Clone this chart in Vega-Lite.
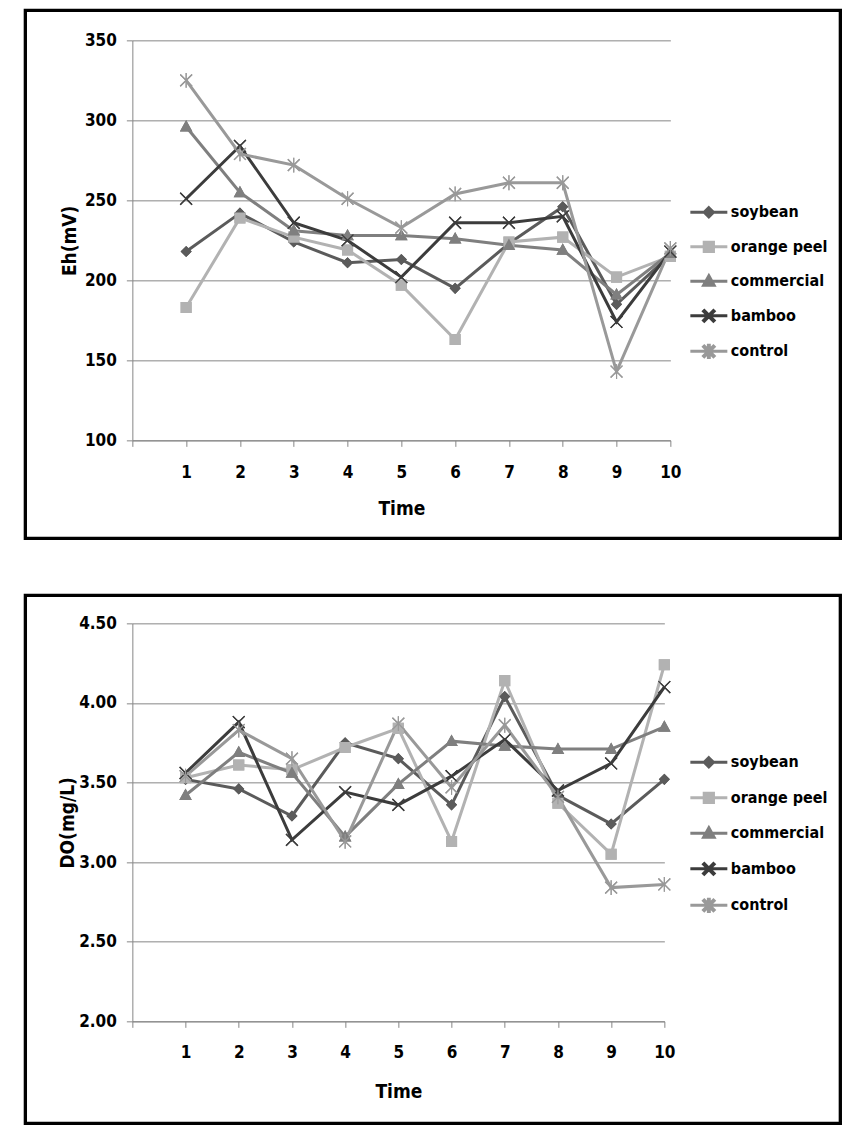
{
  "$schema": "https://vega.github.io/schema/vega-lite/v6.json",
  "background": "white",
  "padding": {"left": 23.35, "top": 8.35, "right": 5, "bottom": 5},
  "bounds": "flush",
  "spacing": 183,
  "resolve": {"scale": {"color": "independent", "shape": "independent", "x": "independent", "y": "independent"}, "legend": {"color": "independent", "shape": "independent"}},
  "datasets": {
    "eh": [
      {"time": 1, "series": "soybean", "value": 218}, {"time": 2, "series": "soybean", "value": 242}, {"time": 3, "series": "soybean", "value": 224}, {"time": 4, "series": "soybean", "value": 211}, {"time": 5, "series": "soybean", "value": 213}, {"time": 6, "series": "soybean", "value": 195}, {"time": 7, "series": "soybean", "value": 223}, {"time": 8, "series": "soybean", "value": 246}, {"time": 9, "series": "soybean", "value": 185}, {"time": 10, "series": "soybean", "value": 216},
      {"time": 1, "series": "orange peel", "value": 183}, {"time": 2, "series": "orange peel", "value": 239}, {"time": 3, "series": "orange peel", "value": 227}, {"time": 4, "series": "orange peel", "value": 219}, {"time": 5, "series": "orange peel", "value": 197}, {"time": 6, "series": "orange peel", "value": 163}, {"time": 7, "series": "orange peel", "value": 224}, {"time": 8, "series": "orange peel", "value": 227}, {"time": 9, "series": "orange peel", "value": 202}, {"time": 10, "series": "orange peel", "value": 215},
      {"time": 1, "series": "commercial", "value": 296}, {"time": 2, "series": "commercial", "value": 255}, {"time": 3, "series": "commercial", "value": 231}, {"time": 4, "series": "commercial", "value": 228}, {"time": 5, "series": "commercial", "value": 228}, {"time": 6, "series": "commercial", "value": 226}, {"time": 7, "series": "commercial", "value": 222}, {"time": 8, "series": "commercial", "value": 219}, {"time": 9, "series": "commercial", "value": 191}, {"time": 10, "series": "commercial", "value": 217},
      {"time": 1, "series": "bamboo", "value": 251}, {"time": 2, "series": "bamboo", "value": 284}, {"time": 3, "series": "bamboo", "value": 236}, {"time": 4, "series": "bamboo", "value": 225}, {"time": 5, "series": "bamboo", "value": 202}, {"time": 6, "series": "bamboo", "value": 236}, {"time": 7, "series": "bamboo", "value": 236}, {"time": 8, "series": "bamboo", "value": 240}, {"time": 9, "series": "bamboo", "value": 174}, {"time": 10, "series": "bamboo", "value": 218},
      {"time": 1, "series": "control", "value": 325}, {"time": 2, "series": "control", "value": 279}, {"time": 3, "series": "control", "value": 272}, {"time": 4, "series": "control", "value": 251}, {"time": 5, "series": "control", "value": 233}, {"time": 6, "series": "control", "value": 254}, {"time": 7, "series": "control", "value": 261}, {"time": 8, "series": "control", "value": 261}, {"time": 9, "series": "control", "value": 143}, {"time": 10, "series": "control", "value": 220}
    ],
    "do": [
      {"time": 1, "series": "soybean", "value": 3.52}, {"time": 2, "series": "soybean", "value": 3.46}, {"time": 3, "series": "soybean", "value": 3.29}, {"time": 4, "series": "soybean", "value": 3.75}, {"time": 5, "series": "soybean", "value": 3.65}, {"time": 6, "series": "soybean", "value": 3.36}, {"time": 7, "series": "soybean", "value": 4.04}, {"time": 8, "series": "soybean", "value": 3.42}, {"time": 9, "series": "soybean", "value": 3.24}, {"time": 10, "series": "soybean", "value": 3.52},
      {"time": 1, "series": "orange peel", "value": 3.53}, {"time": 2, "series": "orange peel", "value": 3.61}, {"time": 3, "series": "orange peel", "value": 3.58}, {"time": 4, "series": "orange peel", "value": 3.72}, {"time": 5, "series": "orange peel", "value": 3.84}, {"time": 6, "series": "orange peel", "value": 3.13}, {"time": 7, "series": "orange peel", "value": 4.14}, {"time": 8, "series": "orange peel", "value": 3.37}, {"time": 9, "series": "orange peel", "value": 3.05}, {"time": 10, "series": "orange peel", "value": 4.24},
      {"time": 1, "series": "commercial", "value": 3.42}, {"time": 2, "series": "commercial", "value": 3.69}, {"time": 3, "series": "commercial", "value": 3.56}, {"time": 4, "series": "commercial", "value": 3.16}, {"time": 5, "series": "commercial", "value": 3.49}, {"time": 6, "series": "commercial", "value": 3.76}, {"time": 7, "series": "commercial", "value": 3.73}, {"time": 8, "series": "commercial", "value": 3.71}, {"time": 9, "series": "commercial", "value": 3.71}, {"time": 10, "series": "commercial", "value": 3.85},
      {"time": 1, "series": "bamboo", "value": 3.56}, {"time": 2, "series": "bamboo", "value": 3.88}, {"time": 3, "series": "bamboo", "value": 3.14}, {"time": 4, "series": "bamboo", "value": 3.44}, {"time": 5, "series": "bamboo", "value": 3.36}, {"time": 6, "series": "bamboo", "value": 3.54}, {"time": 7, "series": "bamboo", "value": 3.77}, {"time": 8, "series": "bamboo", "value": 3.45}, {"time": 9, "series": "bamboo", "value": 3.62}, {"time": 10, "series": "bamboo", "value": 4.10},
      {"time": 1, "series": "control", "value": 3.54}, {"time": 2, "series": "control", "value": 3.83}, {"time": 3, "series": "control", "value": 3.65}, {"time": 4, "series": "control", "value": 3.13}, {"time": 5, "series": "control", "value": 3.87}, {"time": 6, "series": "control", "value": 3.47}, {"time": 7, "series": "control", "value": 3.86}, {"time": 8, "series": "control", "value": 3.41}, {"time": 9, "series": "control", "value": 2.84}, {"time": 10, "series": "control", "value": 2.86}
    ]
  },
  "config": {
    "font": "DejaVu Sans Condensed, Liberation Sans Narrow, DejaVu Sans, sans-serif",
    "view": {"stroke": null},
    "axis": {
      "labelFontSize": 17, "labelFontWeight": "bold", "labelColor": "black",
      "titleFontSize": 19, "titleFontWeight": "bold", "titleColor": "black",
      "domainColor": "#868686", "tickColor": "#868686", "gridColor": "#868686", "gridOpacity": 1,
      "domainWidth": 1, "tickWidth": 1, "gridWidth": 1, "tickSize": 6
    },
    "legend": {"labelFontSize": 16, "labelFontWeight": "bold", "labelColor": "black"}
  },
  "vconcat": [
    {
      "width": 538,
      "height": 400,
      "layer": [
        {
          "data": {"name": "eh"},
          "mark": {"type": "point", "filled": true, "opacity": 1, "size": 1369},
          "encoding": {
            "x": {"field": "time", "type": "quantitative", "scale": {"domain": [0, 10], "nice": false, "zero": false},
                  "axis": {"title": "Time", "values": [0, 1, 2, 3, 4, 5, 6, 7, 8, 9, 10], "labelExpr": "datum.value == 0 ? '' : datum.label", "grid": false, "labelFlush": false, "labelPadding": 18, "titlePadding": 19, "labelAngle": 0}},
            "y": {"field": "value", "type": "quantitative", "scale": {"domain": [100, 350], "nice": false, "zero": false},
                  "axis": {"title": "Eh(mV)", "values": [100, 150, 200, 250, 300, 350], "grid": true, "labelPadding": 10, "titlePadding": 5}},
            "color": {"field": "series", "type": "nominal",
                      "scale": {"domain": ["soybean", "orange peel", "commercial", "bamboo", "control"], "range": ["#5b5b5b", "#b2b2b2", "#7f7f7f", "#3c3c3c", "#999999"]},
                      "legend": {"title": null, "orient": "none", "legendX": 559.5, "legendY": 155, "symbolSize": 950, "symbolStrokeWidth": 3, "symbolOffset": 0, "labelOffset": 5, "rowPadding": 6.5, "padding": 0, "labelLimit": 200,
                                 "encoding": {"symbols": {"stroke": {"condition": [{"test": "datum.value === 'soybean'", "value": "#5b5b5b"}, {"test": "datum.value === 'orange peel'", "value": "#b2b2b2"}, {"test": "datum.value === 'commercial'", "value": "#7f7f7f"}, {"test": "datum.value === 'bamboo'", "value": "#3c3c3c"}], "value": "#999999"}, "strokeWidth": {"value": 3}}}}},
            "shape": {"field": "series", "type": "nominal",
                      "scale": {"domain": ["soybean", "orange peel", "commercial", "bamboo", "control"],
                                "range": [
                                  "M-1.2,0H1.2M0,-0.3L0.3,0L0,0.3L-0.3,0Z",
                                  "M-1.2,0H1.2M-0.3,-0.3H0.3V0.3H-0.3Z",
                                  "M-1.2,0H1.2M0,-0.36L0.34,0.26H-0.34Z",
                                  "M-1.2,0H1.2M-0.295,-0.345L0.345,0.295L0.295,0.345L-0.345,-0.295ZM0.345,-0.295L-0.295,0.345L-0.345,0.295L0.295,-0.345Z",
                                  "M-1.2,0H1.2M-0.295,-0.345L0.345,0.295L0.295,0.345L-0.345,-0.295ZM0.345,-0.295L-0.295,0.345L-0.345,0.295L0.295,-0.345ZM-0.03,-0.4H0.03V0.4H-0.03Z"
                                ]},
                      "legend": {"title": null, "orient": "none", "legendX": 559.5, "legendY": 155, "symbolSize": 950, "symbolStrokeWidth": 3, "symbolOffset": 0, "labelOffset": 5, "rowPadding": 6.5, "padding": 0, "labelLimit": 200,
                                 "encoding": {"symbols": {"stroke": {"condition": [{"test": "datum.value === 'soybean'", "value": "#5b5b5b"}, {"test": "datum.value === 'orange peel'", "value": "#b2b2b2"}, {"test": "datum.value === 'commercial'", "value": "#7f7f7f"}, {"test": "datum.value === 'bamboo'", "value": "#3c3c3c"}], "value": "#999999"}, "strokeWidth": {"value": 3}}}}}
          }
        },
        {
          "data": {"name": "eh"},
          "mark": {"type": "line", "strokeWidth": 3},
          "encoding": {
            "x": {"field": "time", "type": "quantitative"},
            "y": {"field": "value", "type": "quantitative"},
            "detail": {"field": "series", "type": "nominal"},
            "color": {"field": "series", "type": "nominal",
                      "scale": {"domain": ["soybean", "orange peel", "commercial", "bamboo", "control"], "range": ["#5b5b5b", "#b2b2b2", "#7f7f7f", "#3c3c3c", "#999999"]},
                      "legend": {"title": null, "orient": "none", "legendX": 559.5, "legendY": 155, "symbolSize": 950, "symbolStrokeWidth": 3, "symbolOffset": 0, "labelOffset": 5, "rowPadding": 6.5, "padding": 0, "labelLimit": 200,
                                 "encoding": {"symbols": {"stroke": {"condition": [{"test": "datum.value === 'soybean'", "value": "#5b5b5b"}, {"test": "datum.value === 'orange peel'", "value": "#b2b2b2"}, {"test": "datum.value === 'commercial'", "value": "#7f7f7f"}, {"test": "datum.value === 'bamboo'", "value": "#3c3c3c"}], "value": "#999999"}, "strokeWidth": {"value": 3}}}}}
          }
        },
        {
          "data": {"name": "eh"},
          "mark": {"type": "point", "filled": true, "opacity": 1, "size": 1369},
          "encoding": {
            "x": {"field": "time", "type": "quantitative"},
            "y": {"field": "value", "type": "quantitative"},
            "color": {"field": "series", "type": "nominal",
                      "scale": {"domain": ["soybean", "orange peel", "commercial", "bamboo", "control"], "range": ["#5b5b5b", "#b2b2b2", "#7f7f7f", "#3c3c3c", "#999999"]},
                      "legend": {"title": null, "orient": "none", "legendX": 559.5, "legendY": 155, "symbolSize": 950, "symbolStrokeWidth": 3, "symbolOffset": 0, "labelOffset": 5, "rowPadding": 6.5, "padding": 0, "labelLimit": 200,
                                 "encoding": {"symbols": {"stroke": {"condition": [{"test": "datum.value === 'soybean'", "value": "#5b5b5b"}, {"test": "datum.value === 'orange peel'", "value": "#b2b2b2"}, {"test": "datum.value === 'commercial'", "value": "#7f7f7f"}, {"test": "datum.value === 'bamboo'", "value": "#3c3c3c"}], "value": "#999999"}, "strokeWidth": {"value": 3}}}}},
            "shape": {"field": "series", "type": "nominal",
                      "scale": {"domain": ["soybean", "orange peel", "commercial", "bamboo", "control"],
                                "range": [
                                  "M-1.2,0H1.2M0,-0.3L0.3,0L0,0.3L-0.3,0Z",
                                  "M-1.2,0H1.2M-0.3,-0.3H0.3V0.3H-0.3Z",
                                  "M-1.2,0H1.2M0,-0.36L0.34,0.26H-0.34Z",
                                  "M-1.2,0H1.2M-0.295,-0.345L0.345,0.295L0.295,0.345L-0.345,-0.295ZM0.345,-0.295L-0.295,0.345L-0.345,0.295L0.295,-0.345Z",
                                  "M-1.2,0H1.2M-0.295,-0.345L0.345,0.295L0.295,0.345L-0.345,-0.295ZM0.345,-0.295L-0.295,0.345L-0.345,0.295L0.295,-0.345ZM-0.03,-0.4H0.03V0.4H-0.03Z"
                                ]},
                      "legend": {"title": null, "orient": "none", "legendX": 559.5, "legendY": 155, "symbolSize": 950, "symbolStrokeWidth": 3, "symbolOffset": 0, "labelOffset": 5, "rowPadding": 6.5, "padding": 0, "labelLimit": 200,
                                 "encoding": {"symbols": {"stroke": {"condition": [{"test": "datum.value === 'soybean'", "value": "#5b5b5b"}, {"test": "datum.value === 'orange peel'", "value": "#b2b2b2"}, {"test": "datum.value === 'commercial'", "value": "#7f7f7f"}, {"test": "datum.value === 'bamboo'", "value": "#3c3c3c"}], "value": "#999999"}, "strokeWidth": {"value": 3}}}}}
          }
        },
        {
          "data": {"values": [{}]},
          "mark": {"type": "rect", "filled": false, "stroke": "black", "strokeWidth": 3.3, "clip": false},
          "encoding": {
            "x": {"datum": -1.989, "type": "quantitative"},
            "x2": {"datum": 13.16},
            "y": {"datum": 368.75, "type": "quantitative"},
            "y2": {"datum": 38.75}
          }
        }
      ]
    },
    {
      "width": 532,
      "height": 398,
      "layer": [
        {
          "data": {"name": "do"},
          "mark": {"type": "point", "filled": true, "opacity": 1, "size": 1369},
          "encoding": {
            "x": {"field": "time", "type": "quantitative", "scale": {"domain": [0, 10], "nice": false, "zero": false},
                  "axis": {"title": "Time", "values": [0, 1, 2, 3, 4, 5, 6, 7, 8, 9, 10], "labelExpr": "datum.value == 0 ? '' : datum.label", "grid": false, "labelFlush": false, "labelPadding": 17, "titlePadding": 22, "labelAngle": 0}},
            "y": {"field": "value", "type": "quantitative", "scale": {"domain": [2, 4.5], "nice": false, "zero": false},
                  "axis": {"title": "DO(mg/L)", "values": [2, 2.5, 3, 3.5, 4, 4.5], "format": ".2f", "grid": true, "labelPadding": 10, "titlePadding": 1}},
            "color": {"field": "series", "type": "nominal",
                      "scale": {"domain": ["soybean", "orange peel", "commercial", "bamboo", "control"], "range": ["#5b5b5b", "#b2b2b2", "#7f7f7f", "#3c3c3c", "#999999"]},
                      "legend": {"title": null, "orient": "none", "legendX": 559.5, "legendY": 122, "symbolSize": 950, "symbolStrokeWidth": 3, "symbolOffset": 0, "labelOffset": 5, "rowPadding": 7.5, "padding": 0, "labelLimit": 200,
                                 "encoding": {"symbols": {"stroke": {"condition": [{"test": "datum.value === 'soybean'", "value": "#5b5b5b"}, {"test": "datum.value === 'orange peel'", "value": "#b2b2b2"}, {"test": "datum.value === 'commercial'", "value": "#7f7f7f"}, {"test": "datum.value === 'bamboo'", "value": "#3c3c3c"}], "value": "#999999"}, "strokeWidth": {"value": 3}}}}},
            "shape": {"field": "series", "type": "nominal",
                      "scale": {"domain": ["soybean", "orange peel", "commercial", "bamboo", "control"],
                                "range": [
                                  "M-1.2,0H1.2M0,-0.3L0.3,0L0,0.3L-0.3,0Z",
                                  "M-1.2,0H1.2M-0.3,-0.3H0.3V0.3H-0.3Z",
                                  "M-1.2,0H1.2M0,-0.36L0.34,0.26H-0.34Z",
                                  "M-1.2,0H1.2M-0.295,-0.345L0.345,0.295L0.295,0.345L-0.345,-0.295ZM0.345,-0.295L-0.295,0.345L-0.345,0.295L0.295,-0.345Z",
                                  "M-1.2,0H1.2M-0.295,-0.345L0.345,0.295L0.295,0.345L-0.345,-0.295ZM0.345,-0.295L-0.295,0.345L-0.345,0.295L0.295,-0.345ZM-0.03,-0.4H0.03V0.4H-0.03Z"
                                ]},
                      "legend": {"title": null, "orient": "none", "legendX": 559.5, "legendY": 122, "symbolSize": 950, "symbolStrokeWidth": 3, "symbolOffset": 0, "labelOffset": 5, "rowPadding": 7.5, "padding": 0, "labelLimit": 200,
                                 "encoding": {"symbols": {"stroke": {"condition": [{"test": "datum.value === 'soybean'", "value": "#5b5b5b"}, {"test": "datum.value === 'orange peel'", "value": "#b2b2b2"}, {"test": "datum.value === 'commercial'", "value": "#7f7f7f"}, {"test": "datum.value === 'bamboo'", "value": "#3c3c3c"}], "value": "#999999"}, "strokeWidth": {"value": 3}}}}}
          }
        },
        {
          "data": {"name": "do"},
          "mark": {"type": "line", "strokeWidth": 3},
          "encoding": {
            "x": {"field": "time", "type": "quantitative"},
            "y": {"field": "value", "type": "quantitative"},
            "detail": {"field": "series", "type": "nominal"},
            "color": {"field": "series", "type": "nominal",
                      "scale": {"domain": ["soybean", "orange peel", "commercial", "bamboo", "control"], "range": ["#5b5b5b", "#b2b2b2", "#7f7f7f", "#3c3c3c", "#999999"]},
                      "legend": {"title": null, "orient": "none", "legendX": 559.5, "legendY": 122, "symbolSize": 950, "symbolStrokeWidth": 3, "symbolOffset": 0, "labelOffset": 5, "rowPadding": 7.5, "padding": 0, "labelLimit": 200,
                                 "encoding": {"symbols": {"stroke": {"condition": [{"test": "datum.value === 'soybean'", "value": "#5b5b5b"}, {"test": "datum.value === 'orange peel'", "value": "#b2b2b2"}, {"test": "datum.value === 'commercial'", "value": "#7f7f7f"}, {"test": "datum.value === 'bamboo'", "value": "#3c3c3c"}], "value": "#999999"}, "strokeWidth": {"value": 3}}}}}
          }
        },
        {
          "data": {"name": "do"},
          "mark": {"type": "point", "filled": true, "opacity": 1, "size": 1369},
          "encoding": {
            "x": {"field": "time", "type": "quantitative"},
            "y": {"field": "value", "type": "quantitative"},
            "color": {"field": "series", "type": "nominal",
                      "scale": {"domain": ["soybean", "orange peel", "commercial", "bamboo", "control"], "range": ["#5b5b5b", "#b2b2b2", "#7f7f7f", "#3c3c3c", "#999999"]},
                      "legend": {"title": null, "orient": "none", "legendX": 559.5, "legendY": 122, "symbolSize": 950, "symbolStrokeWidth": 3, "symbolOffset": 0, "labelOffset": 5, "rowPadding": 7.5, "padding": 0, "labelLimit": 200,
                                 "encoding": {"symbols": {"stroke": {"condition": [{"test": "datum.value === 'soybean'", "value": "#5b5b5b"}, {"test": "datum.value === 'orange peel'", "value": "#b2b2b2"}, {"test": "datum.value === 'commercial'", "value": "#7f7f7f"}, {"test": "datum.value === 'bamboo'", "value": "#3c3c3c"}], "value": "#999999"}, "strokeWidth": {"value": 3}}}}},
            "shape": {"field": "series", "type": "nominal",
                      "scale": {"domain": ["soybean", "orange peel", "commercial", "bamboo", "control"],
                                "range": [
                                  "M-1.2,0H1.2M0,-0.3L0.3,0L0,0.3L-0.3,0Z",
                                  "M-1.2,0H1.2M-0.3,-0.3H0.3V0.3H-0.3Z",
                                  "M-1.2,0H1.2M0,-0.36L0.34,0.26H-0.34Z",
                                  "M-1.2,0H1.2M-0.295,-0.345L0.345,0.295L0.295,0.345L-0.345,-0.295ZM0.345,-0.295L-0.295,0.345L-0.345,0.295L0.295,-0.345Z",
                                  "M-1.2,0H1.2M-0.295,-0.345L0.345,0.295L0.295,0.345L-0.345,-0.295ZM0.345,-0.295L-0.295,0.345L-0.345,0.295L0.295,-0.345ZM-0.03,-0.4H0.03V0.4H-0.03Z"
                                ]},
                      "legend": {"title": null, "orient": "none", "legendX": 559.5, "legendY": 122, "symbolSize": 950, "symbolStrokeWidth": 3, "symbolOffset": 0, "labelOffset": 5, "rowPadding": 7.5, "padding": 0, "labelLimit": 200,
                                 "encoding": {"symbols": {"stroke": {"condition": [{"test": "datum.value === 'soybean'", "value": "#5b5b5b"}, {"test": "datum.value === 'orange peel'", "value": "#b2b2b2"}, {"test": "datum.value === 'commercial'", "value": "#7f7f7f"}, {"test": "datum.value === 'bamboo'", "value": "#3c3c3c"}], "value": "#999999"}, "strokeWidth": {"value": 3}}}}}
          }
        },
        {
          "data": {"values": [{}]},
          "mark": {"type": "rect", "filled": false, "stroke": "black", "strokeWidth": 3.3, "clip": false},
          "encoding": {
            "x": {"datum": -2.011, "type": "quantitative"},
            "x2": {"datum": 13.308},
            "y": {"datum": 4.676, "type": "quantitative"},
            "y2": {"datum": 1.359}
          }
        }
      ]
    }
  ]
}
